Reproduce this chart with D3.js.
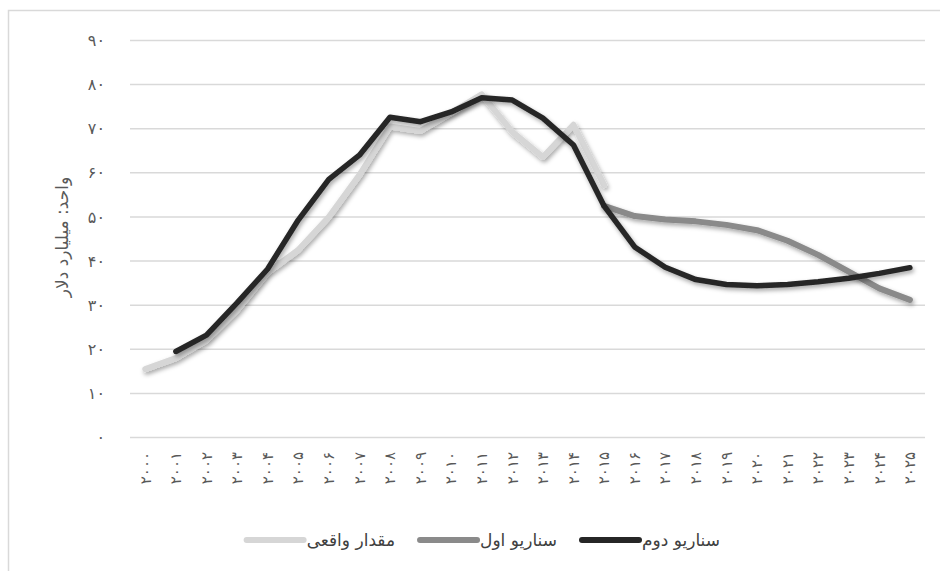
<!DOCTYPE html>
<html lang="fa">
<head>
<meta charset="utf-8">
<script src="https://cdn.jsdelivr.net/npm/d3@7/dist/d3.min.js"></script>
<style>
  html, body { margin: 0; padding: 0; background: #fff; }
  svg { display: block; font-family: "DejaVu Sans", "Noto Sans", sans-serif; }
</style>
</head>
<body>
<svg id="chart" width="940" height="571"></svg>
<script>
// ---- data ----
const years = d3.range(2000, 2026);
const yTicks = [0, 10, 20, 30, 40, 50, 60, 70, 80, 90];
const seriesNames = ["مقدار واقعی", "سناریو اول", "سناریو دوم"];
const yTitle = "واحد: میلیارد دلار";

// مقدار واقعی 2000–2015
const actualValues = [15.5, 18, 22, 28.9, 37.4, 42.5, 50, 59.5, 70.5, 69.5, 73.6, 77.8, 69.3, 63.6, 70.9, 57.2];
// سناریو اول 2015–2025
const scenario1Values = [52.5, 50.2, 49.4, 49, 48.2, 47, 44.6, 41.4, 37.6, 33.8, 31.2];
// سناریو دوم 2001–2025
const scenario2Values = [19.5, 23.2, 30.5, 38.2, 49.3, 58.5, 64, 72.6, 71.6, 73.8, 77, 76.5, 72.4, 66.3, 52.5, 43.2, 38.6, 35.8, 34.7, 34.4, 34.7, 35.3, 36.1, 37.2, 38.5];

const actualStart = 2000, scenario1Start = 2015, scenario2Start = 2001;

const toFa = n => String(n).replace(/\d/g, d => "۰۱۲۳۴۵۶۷۸۹"[+d]);

// ---- layout ----
const svg = d3.select("#chart");
const gridX0 = 130, gridX1 = 925;
const x = d3.scalePoint().domain(years).range([145.3, 909.9]);
const y = d3.scaleLinear().domain([0, 90]).range([437.5, 40.5]);

// outer border
svg.append("rect").attr("x", 8.5).attr("y", 10.5).attr("width", 1000).attr("height", 1000)
  .attr("fill", "none").attr("stroke", "#d9d9d9").attr("stroke-width", 1.5);

// shadow filter
const defs = svg.append("defs");
const f = defs.append("filter").attr("id", "shadow").attr("x", "-10%").attr("y", "-10%").attr("width", "120%").attr("height", "130%");
f.append("feDropShadow").attr("dx", 1.5).attr("dy", 2.5).attr("stdDeviation", 2).attr("flood-color", "#000").attr("flood-opacity", 0.35);

// gridlines
svg.append("g").selectAll("line").data(yTicks).join("line")
  .attr("x1", gridX0).attr("x2", gridX1)
  .attr("y1", d => y(d)).attr("y2", d => y(d))
  .attr("stroke", "#d9d9d9").attr("stroke-width", 1.5);

// y axis labels
svg.append("g").selectAll("text").data(yTicks).join("text")
  .attr("x", 105).attr("y", d => y(d)).attr("dy", "0.35em")
  .attr("text-anchor", "end").attr("font-size", 16).attr("fill", "#595959")
  .text(d => toFa(d));

// x axis labels (rotated)
svg.append("g").selectAll("text").data(years).join("text")
  .attr("transform", d => `translate(${x(d)},452) rotate(-90)`)
  .attr("dy", "0.35em").attr("text-anchor", "end")
  .attr("font-size", 15).attr("fill", "#595959")
  .text(d => toFa(d));

// y title
svg.append("text")
  .attr("transform", "translate(62,237) rotate(-90)")
  .attr("text-anchor", "middle").attr("dy", "0.35em")
  .attr("font-size", 17).attr("fill", "#595959")
  .text(yTitle);

// lines
const line = d3.line().x(d => x(d.year)).y(d => y(d.value));
const mk = (vals, start) => vals.map((v, i) => ({ year: start + i, value: v }));
const series = [
  { name: seriesNames[0], data: mk(actualValues, actualStart), color: "#d6d6d6", width: 6 },
  { name: seriesNames[1], data: mk(scenario1Values, scenario1Start), color: "#8a8a8a", width: 6 },
  { name: seriesNames[2], data: mk(scenario2Values, scenario2Start), color: "#262626", width: 5.5 }
];
svg.append("g").selectAll("path").data(series).join("path")
  .attr("d", d => line(d.data))
  .attr("fill", "none").attr("stroke", d => d.color).attr("stroke-width", d => d.width)
  .attr("stroke-linejoin", "round").attr("stroke-linecap", "round")
  .attr("filter", "url(#shadow)");

// legend (right to left)
const lg = svg.append("g");
let cursor = 720;
const legendY = 540;
[series[2], series[1], series[0]].forEach(s => {
  const t = lg.append("text").attr("x", cursor).attr("y", legendY).attr("dy", "0.35em")
    .attr("text-anchor", "end").attr("font-size", 17).attr("fill", "#404040").text(s.name);
  const w = t.node().getComputedTextLength();
  const lx1 = cursor - w - 3, lx0 = lx1 - 57;
  lg.append("line").attr("x1", lx0).attr("x2", lx1).attr("y1", legendY).attr("y2", legendY)
    .attr("stroke", s.color).attr("stroke-width", 6).attr("stroke-linecap", "round");
  cursor = lx0 - 25;
});
</script>
</body>
</html>
